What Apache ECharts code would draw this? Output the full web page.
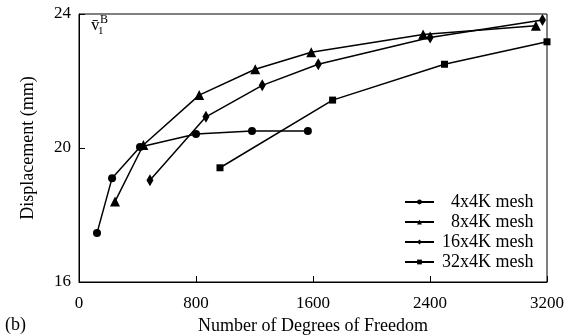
<!DOCTYPE html>
<html><head><meta charset="utf-8">
<script src="https://cdn.jsdelivr.net/npm/echarts@6/dist/echarts.min.js"></script>
<style>html,body{margin:0;padding:0;background:#fff}#c{width:577px;height:335px}</style>
</head><body><div id="c"></div>
<script>
var seriesNames = ['4x4K mesh', '8x4K mesh', '16x4K mesh', '32x4K mesh'];
var x4 = [123, 226, 417, 800, 1183, 1565];
var y4 = [17.46, 19.1, 20.03, 20.42, 20.51, 20.51];
var x8 = [246, 440, 822, 1205, 1588, 2353, 3124];
var y8 = [18.4, 20.09, 21.58, 22.35, 22.86, 23.39, 23.65];
var x16 = [485, 868, 1253, 1636, 2401, 3169];
var y16 = [19.04, 20.93, 21.87, 22.50, 23.30, 23.82];
var x32 = [964, 1734, 2499, 3200];
var y32 = [19.41, 21.43, 22.5, 23.17];
var xTicks = [0, 800, 1600, 2400, 3200];
var yTicks = [16, 20, 24];

var F = 'Liberation Serif';
function pairs(xs, ys){ return xs.map(function(x,i){return [x, ys[i]];}); }
var symbols = ['circle', 'triangle', 'diamond', 'rect'];
var sizes = [8, 10, [7,12], 7];
var data = [pairs(x4,y4), pairs(x8,y8), pairs(x16,y16), pairs(x32,y32)];

var chart = echarts.init(document.getElementById('c'), null, {renderer:'canvas'});
chart.setOption({
  backgroundColor: '#fff',
  animation: false,
  grid: {left: 79, right: 30, top: 14, bottom: 53, outerBoundsMode: 'none', containLabel: false,
         show: true, borderColor: '#000', borderWidth: 1, backgroundColor: 'transparent'},
  xAxis: {
    type: 'value', min: xTicks[0], max: xTicks[xTicks.length-1], interval: 800,
    name: 'Number of Degrees of Freedom', nameLocation: 'middle', nameGap: 34,
    nameTextStyle: {fontFamily: F, fontSize: 18, color: '#000'},
    axisLine: {lineStyle: {color: '#000', width: 1}},
    axisTick: {inside: true, length: 6, lineStyle: {color: '#000'}},
    axisLabel: {fontFamily: F, fontSize: 17, color: '#000', margin: 13, formatter: function(v){return String(v);}},
    splitLine: {show: false}
  },
  yAxis: {
    type: 'value', min: yTicks[0], max: yTicks[yTicks.length-1], interval: 4,
    name: 'Displacement (mm)', nameLocation: 'middle', nameGap: 42,
    nameTextStyle: {fontFamily: F, fontSize: 18, color: '#000'},
    axisLine: {show: true, lineStyle: {color: '#000', width: 1}},
    axisTick: {show: true, inside: true, length: 6, lineStyle: {color: '#000'}},
    axisLabel: {fontFamily: F, fontSize: 17, color: '#000', margin: 8, formatter: function(v){return String(v);}},
    splitLine: {show: false}
  },
  legend: {
    orient: 'vertical', left: 399, top: 188,
    itemWidth: 29, itemHeight: 6, itemGap: 2,
    textStyle: {fontFamily: F, fontSize: 18, color: '#000', padding: [0,0,0,3]},
    formatter: function(n){ return (n.length < 10 ? '\u2007' : '') + n; },
    data: seriesNames
  },
  series: seriesNames.map(function(n, i){
    return {
      name: n, type: 'line', data: data[i],
      symbol: symbols[i], symbolSize: sizes[i], showAllSymbol: true,
      lineStyle: {color: '#000', width: 1.5},
      itemStyle: {color: '#000'},
      color: '#000'
    };
  }),
  graphic: [
    {type: 'text', left: 91, top: 17, style: {text: 'v\u0304', font: '17px "Liberation Serif"', fill: '#000'}},
    {type: 'text', left: 98, top: 26, style: {text: '1', font: '11px "Liberation Serif"', fill: '#000'}},
    {type: 'text', left: 100, top: 14, style: {text: 'B', font: '12px "Liberation Serif"', fill: '#000'}},
    {type: 'text', left: 5, top: 316, style: {text: '(b)', font: '18px "Liberation Serif"', fill: '#000'}}
  ]
});
</script></body></html>
